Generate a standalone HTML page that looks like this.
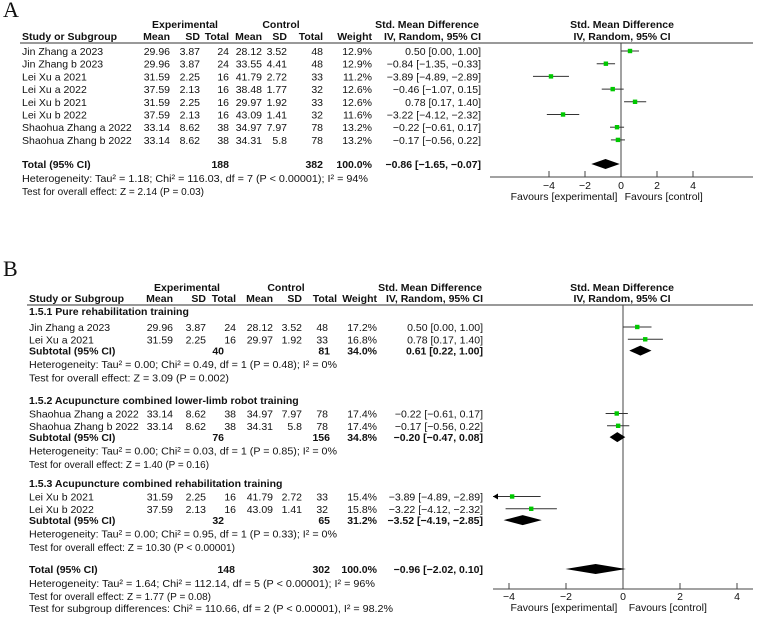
<!DOCTYPE html>
<html><head><meta charset="utf-8"><style>
html,body{margin:0;padding:0;background:#fff;}
svg{display:block;font-family:"Liberation Sans","DejaVu Sans",sans-serif;}
</style></head><body>
<svg id="c" width="763" height="621" viewBox="0 0 763 621"></svg>
<script>
// ===== Panel A data =====
const studiesA = ["Jin Zhang a 2023","Jin Zhang b 2023","Lei Xu a 2021","Lei Xu a 2022","Lei Xu b 2021","Lei Xu b 2022","Shaohua Zhang a 2022","Shaohua Zhang b 2022"];
const expMeanA = ["29.96","29.96","31.59","37.59","31.59","37.59","33.14","33.14"];
const expSdA = ["3.87","3.87","2.25","2.13","2.25","2.13","8.62","8.62"];
const expTotA = ["24","24","16","16","16","16","38","38"];
const ctlMeanA = ["28.12","33.55","41.79","38.48","29.97","43.09","34.97","34.31"];
const ctlSdA = ["3.52","4.41","2.72","1.77","1.92","1.41","7.97","5.8"];
const ctlTotA = ["48","48","33","32","33","32","78","78"];
const weightA = ["12.9%","12.9%","11.2%","12.6%","12.6%","11.6%","13.2%","13.2%"];
const estA = [0.50,-0.84,-3.89,-0.46,0.78,-3.22,-0.22,-0.17];
const loA = [0.00,-1.35,-4.89,-1.07,0.17,-4.12,-0.61,-0.56];
const hiA = [1.00,-0.33,-2.89,0.15,1.40,-2.32,0.17,0.22];
const totalA = [-0.86,-1.65,-0.07];
const ticksA = [-4,-2,0,2,4];

// ===== Panel B data =====
const groupsB = ["1.5.1 Pure rehabilitation training","1.5.2 Acupuncture combined lower-limb robot training","1.5.3 Acupuncture combined rehabilitation training"];
const studiesB = [["Jin Zhang a 2023","Lei Xu a 2021"],["Shaohua Zhang a 2022","Shaohua Zhang b 2022"],["Lei Xu b 2021","Lei Xu b 2022"]];
const expMeanB = [["29.96","31.59"],["33.14","33.14"],["31.59","37.59"]];
const expSdB = [["3.87","2.25"],["8.62","8.62"],["2.25","2.13"]];
const expTotB = [["24","16"],["38","38"],["16","16"]];
const ctlMeanB = [["28.12","29.97"],["34.97","34.31"],["41.79","43.09"]];
const ctlSdB = [["3.52","1.92"],["7.97","5.8"],["2.72","1.41"]];
const ctlTotB = [["48","33"],["78","78"],["33","32"]];
const weightB = [["17.2%","16.8%"],["17.4%","17.4%"],["15.4%","15.8%"]];
const estB = [[0.50,0.78],[-0.22,-0.17],[-3.89,-3.22]];
const loB = [[0.00,0.17],[-0.61,-0.56],[-4.89,-4.12]];
const hiB = [[1.00,1.40],[0.17,0.22],[-2.89,-2.32]];
const subEstB = [0.61,-0.20,-3.52];
const subLoB = [0.22,-0.47,-4.19];
const subHiB = [1.00,0.08,-2.85];
const subExpTotB = ["40","76","32"];
const subCtlTotB = ["81","156","65"];
const subWeightB = ["34.0%","34.8%","31.2%"];
const hetB = ["Heterogeneity: Tau² = 0.00; Chi² = 0.49, df = 1 (P = 0.48); I² = 0%","Heterogeneity: Tau² = 0.00; Chi² = 0.03, df = 1 (P = 0.85); I² = 0%","Heterogeneity: Tau² = 0.00; Chi² = 0.95, df = 1 (P = 0.33); I² = 0%"];
const testB = ["Test for overall effect: Z = 3.09 (P = 0.002)","Test for overall effect: Z = 1.40 (P = 0.16)","Test for overall effect: Z = 10.30 (P < 0.00001)"];
const totalB = [-0.96,-2.02,0.10];
const ticksB = [-4,-2,0,2,4];

const svg = document.getElementById('c');
const NS = "http://www.w3.org/2000/svg";
function mk(tag, attrs){ const e=document.createElementNS(NS,tag); for(const k in attrs) e.setAttribute(k,attrs[k]); svg.appendChild(e); return e; }
function txt(x,y,s,anchor,bold,size,name,len){
  const e=mk('text',{x:x,y:y+4,'font-size':size||10.5,'text-anchor':anchor||'start',fill:'#111'});
  if(bold) e.setAttribute('font-weight','bold');
  if(len) { e.setAttribute('textLength',len); e.setAttribute('lengthAdjust','spacingAndGlyphs'); }
  e.textContent=s;
  
  
  return e;
}
function fmt(v){ return (v<0?'\u2212':'')+Math.abs(v).toFixed(2); }
function ciStr(e,l,h){ return fmt(e)+' ['+fmt(l)+', '+fmt(h)+']'; }
function line(x1,y1,x2,y2,col,w,name){
  const e=mk('line',{x1:x1,y1:y1,x2:x2,y2:y2,stroke:col,'stroke-width':w});
  
  
  return e;
}
function square(cx,cy,name){
  const e=mk('rect',{x:cx-2.2,y:cy-2.2,width:4.4,height:4.4,fill:'#00c800'});
  
  
}
function diamond(xl,xc,xr,cy,name){
  const e=mk('polygon',{points:`${xl},${cy} ${xc},${cy-5} ${xr},${cy} ${xc},${cy+5}`,fill:'#000'});
  
  
}

// ===== Panel A =====
(function(){
  const L = mk('text',{x:3,y:17,'font-size':22,'font-family':'"Liberation Serif",serif',fill:'#111'});
  L.textContent='A';
  
  
  const C={study:22,em:170,esd:200,et:229,cm:262,csd:287,ct:323,w:372,ci:481};
  txt(185,24,'Experimental','middle',true,10.5,'experimental-header');
  txt(281,24,'Control','middle',true,10.5,'control-header');
  txt(427,24,'Std. Mean Difference','middle',true,10.5,'smd-header');
  txt(622,24,'Std. Mean Difference','middle',true,10.5,'plot-smd-header');
  txt(C.study,36,'Study or Subgroup','start',true,10.5,'study-header');
  txt(C.em,36,'Mean','end',true,10.5,'exp-mean-header');
  txt(C.esd,36,'SD','end',true,10.5,'exp-sd-header');
  txt(C.et,36,'Total','end',true,10.5,'exp-total-header');
  txt(C.cm,36,'Mean','end',true,10.5,'ctl-mean-header');
  txt(C.csd,36,'SD','end',true,10.5,'ctl-sd-header');
  txt(C.ct,36,'Total','end',true,10.5,'ctl-total-header');
  txt(C.w,36,'Weight','end',true,10.5,'weight-header');
  txt(C.ci,36,'IV, Random, 95% CI','end',true,10.5,'ci-header');
  txt(622,36,'IV, Random, 95% CI','middle',true,10.5,'plot-ci-header');
  line(20,43,753,43,'#333',1,'header-rule');
  const x0=621, sc=18, xs=v=>x0+v*sc;
  const axisY=177;
  line(x0,43,x0,axisY,'#444',1,'zero-line');
  for(let i=0;i<studiesA.length;i++){
    const y=51+i*12.7;
    txt(C.study,y,studiesA[i],'start',false,10.5,'study-name');
    txt(C.em,y,expMeanA[i],'end',false,10.5,'exp-mean');
    txt(C.esd,y,expSdA[i],'end',false,10.5,'exp-sd');
    txt(C.et,y,expTotA[i],'end',false,10.5,'exp-total');
    txt(C.cm,y,ctlMeanA[i],'end',false,10.5,'ctl-mean');
    txt(C.csd,y,ctlSdA[i],'end',false,10.5,'ctl-sd');
    txt(C.ct,y,ctlTotA[i],'end',false,10.5,'ctl-total');
    txt(C.w,y,weightA[i],'end',false,10.5,'weight');
    txt(C.ci,y,ciStr(estA[i],loA[i],hiA[i]),'end',false,10.5,'ci-text');
    line(xs(loA[i]),y,xs(hiA[i]),y,'#333',1,'ci-line');
    square(xs(estA[i]),y,'effect-marker');
  }
  const ty=164;
  txt(C.study,ty,'Total (95% CI)','start',true,10.5,'total-label');
  txt(C.et,ty,'188','end',true,10.5,'exp-total-sum');
  txt(C.ct,ty,'382','end',true,10.5,'ctl-total-sum');
  txt(C.w,ty,'100.0%','end',true,10.5,'weight-total');
  txt(C.ci,ty,ciStr(totalA[0],totalA[1],totalA[2]),'end',true,10.5,'total-ci');
  diamond(xs(totalA[1]),xs(totalA[0]),xs(totalA[2]),ty,'total-diamond');
  txt(C.study,178,'Heterogeneity: Tau² = 1.18; Chi² = 116.03, df = 7 (P < 0.00001); I² = 94%','start',false,10.5,'heterogeneity-text',346);
  txt(C.study,191,'Test for overall effect: Z = 2.14 (P = 0.03)','start',false,10.5,'overall-effect-text',182);
  line(490,axisY,753,axisY,'#444',1,'x-axis');
  ticksA.forEach(t=>{ line(xs(t),axisY-6,xs(t),axisY,'#444',1,'x-tick'); txt(xs(t),185,t<0?'\u2212'+(-t):String(t),'middle',false,10.5,'x-tick-label'); });
  txt(xs(-0.2),196,'Favours [experimental]','end',false,10.5,'favours-experimental');
  txt(xs(0.2),196,'Favours [control]','start',false,10.5,'favours-control');
})();

// ===== Panel B =====
(function(){
  const L = mk('text',{x:3,y:276,'font-size':22,'font-family':'"Liberation Serif",serif',fill:'#111'});
  L.textContent='B';
  
  
  const C={study:29,em:173,esd:206,et:236,cm:273,csd:302,ct:328,w:377,ci:483};
  txt(187,287,'Experimental','middle',true,10.5,'experimental-header');
  txt(286,287,'Control','middle',true,10.5,'control-header');
  txt(430,287,'Std. Mean Difference','middle',true,10.5,'smd-header');
  txt(622,287,'Std. Mean Difference','middle',true,10.5,'plot-smd-header');
  txt(C.study,298,'Study or Subgroup','start',true,10.5,'study-header');
  txt(C.em,298,'Mean','end',true,10.5,'exp-mean-header');
  txt(C.esd,298,'SD','end',true,10.5,'exp-sd-header');
  txt(C.et,298,'Total','end',true,10.5,'exp-total-header');
  txt(C.cm,298,'Mean','end',true,10.5,'ctl-mean-header');
  txt(C.csd,298,'SD','end',true,10.5,'ctl-sd-header');
  txt(337,298,'Total','end',true,10.5,'ctl-total-header');
  txt(C.w,298,'Weight','end',true,10.5,'weight-header');
  txt(C.ci,298,'IV, Random, 95% CI','end',true,10.5,'ci-header');
  txt(622,298,'IV, Random, 95% CI','middle',true,10.5,'plot-ci-header');
  line(27,305,753,305,'#333',1,'header-rule');
  const x0=623, sc=28.5, xmin=493, xmax=753;
  const xs=v=>x0+v*sc;
  const axisY=589;
  line(x0,305,x0,axisY,'#444',1,'zero-line');
  const gStart=[311,400,483];
  for(let g=0;g<groupsB.length;g++){
    let y=gStart[g];
    txt(C.study,y,groupsB[g],'start',true,10.5,'subgroup-title');
    y+= (g==0?16:13.5);
    for(let i=0;i<studiesB[g].length;i++){
      txt(C.study,y,studiesB[g][i],'start',false,10.5,'study-name');
      txt(C.em,y,expMeanB[g][i],'end',false,10.5,'exp-mean');
      txt(C.esd,y,expSdB[g][i],'end',false,10.5,'exp-sd');
      txt(C.et,y,expTotB[g][i],'end',false,10.5,'exp-total');
      txt(C.cm,y,ctlMeanB[g][i],'end',false,10.5,'ctl-mean');
      txt(C.csd,y,ctlSdB[g][i],'end',false,10.5,'ctl-sd');
      txt(C.ct,y,ctlTotB[g][i],'end',false,10.5,'ctl-total');
      txt(C.w,y,weightB[g][i],'end',false,10.5,'weight');
      txt(C.ci,y,ciStr(estB[g][i],loB[g][i],hiB[g][i]),'end',false,10.5,'ci-text');
      const lo=loB[g][i], hi=hiB[g][i];
      const xl=Math.max(xs(lo),xmin), xr=Math.min(xs(hi),xmax);
      line(xl,y,xr,y,'#333',1,'ci-line');
      if(xs(lo)<xmin){
        const a=mk('polygon',{points:`${xmin},${y} ${xmin+5},${y-3} ${xmin+5},${y+3}`,fill:'#000'});
        
        
      }
      square(xs(estB[g][i]),y,'effect-marker');
      y+=12.3;
    }
    y-=1;
    txt(C.study,y,'Subtotal (95% CI)','start',true,10.5,'subtotal-label');
    txt(C.et-12,y,subExpTotB[g],'end',true,10.5,'subtotal-exp');
    txt(C.ct+2,y,subCtlTotB[g],'end',true,10.5,'subtotal-ctl');
    txt(C.w,y,subWeightB[g],'end',true,10.5,'subtotal-weight');
    txt(C.ci,y,ciStr(subEstB[g],subLoB[g],subHiB[g]),'end',true,10.5,'subtotal-ci');
    diamond(xs(subLoB[g]),xs(subEstB[g]),xs(subHiB[g]),y,'subtotal-diamond');
    txt(C.study,y+13.5,hetB[g],'start',false,10.5,'subgroup-heterogeneity',308);
    txt(C.study,y+27,testB[g],'start',false,10.5,'subgroup-overall-effect',g==2?206:(g==0?200:180));
  }
  const ty=569;
  txt(C.study,ty,'Total (95% CI)','start',true,10.5,'total-label');
  txt(C.et-1,ty,'148','end',true,10.5,'exp-total-sum');
  txt(C.ct+2,ty,'302','end',true,10.5,'ctl-total-sum');
  txt(C.w,ty,'100.0%','end',true,10.5,'weight-total');
  txt(C.ci,ty,ciStr(totalB[0],totalB[1],totalB[2]),'end',true,10.5,'total-ci');
  diamond(xs(totalB[1]),xs(totalB[0]),xs(totalB[2]),ty,'total-diamond');
  txt(C.study,583,'Heterogeneity: Tau² = 1.64; Chi² = 112.14, df = 5 (P < 0.00001); I² = 96%','start',false,10.5,'heterogeneity-text',346);
  txt(C.study,596,'Test for overall effect: Z = 1.77 (P = 0.08)','start',false,10.5,'overall-effect-text',182);
  txt(C.study,608,'Test for subgroup differences: Chi² = 110.66, df = 2 (P < 0.00001), I² = 98.2%','start',false,10.5,'subgroup-differences-text',364);
  line(xmin,axisY,xmax,axisY,'#444',1,'x-axis');
  ticksB.forEach(t=>{ line(xs(t),axisY-6,xs(t),axisY,'#444',1,'x-tick'); txt(xs(t),596,t<0?'\u2212'+(-t):String(t),'middle',false,10.5,'x-tick-label'); });
  txt(xs(-0.2),607,'Favours [experimental]','end',false,10.5,'favours-experimental');
  txt(xs(0.2),607,'Favours [control]','start',false,10.5,'favours-control');
})();
</script>
</body></html>
